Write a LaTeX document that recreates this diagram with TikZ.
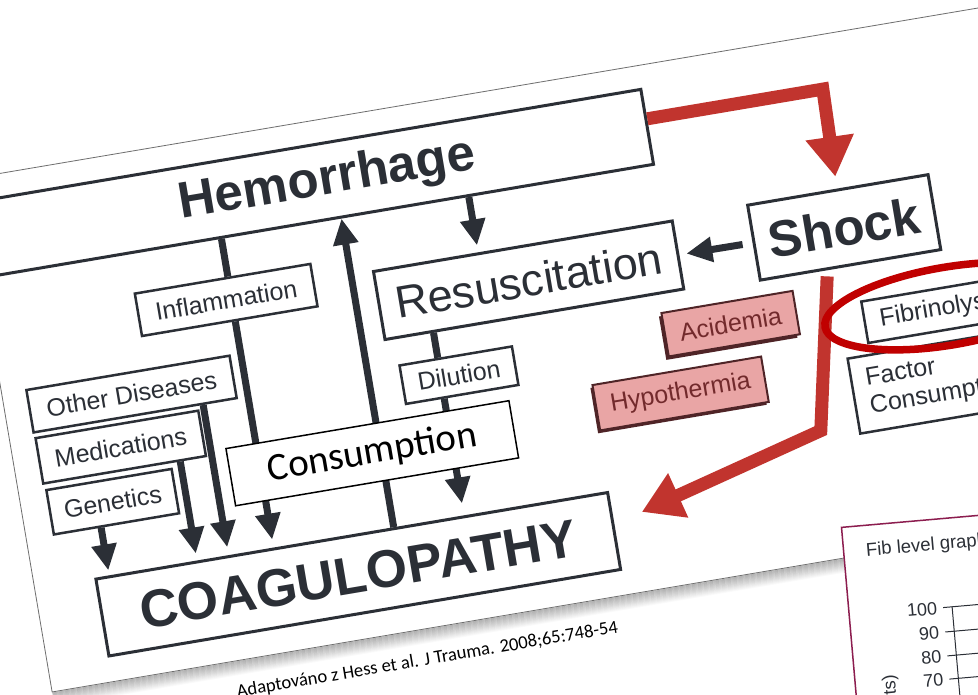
\documentclass[tikz,border=0pt]{standalone}
\usepackage{fontspec}
\setmainfont{Liberation Sans}
\newfontfamily\calibrifont{Carlito}
\usetikzlibrary{arrows.meta,calc}

\definecolor{ink}{HTML}{2B2F36}
\definecolor{bloodred}{HTML}{C1342E}
\definecolor{ringred}{HTML}{C00000}
\definecolor{pinkfill}{HTML}{E9A5A5}
\definecolor{pinkedge}{HTML}{4F2427}
\definecolor{pinktext}{HTML}{722A2C}
\definecolor{cardedge}{HTML}{8C1D4F}
\definecolor{pageedge}{HTML}{6E6E6E}

\newcommand\pxfont[1]{\fontsize{#1}{#1}\selectfont}

\pgfdeclarelayer{sheet}
\pgfdeclarelayer{links}
\pgfsetlayers{sheet,links,main}

\tikzset{
  mainbox/.style={draw=ink, line width=3pt, fill=white, text=ink, inner sep=0pt, font=\pxfont{51}\bfseries},
  midbox/.style={draw=ink, line width=3pt, fill=white, text=ink, inner sep=0pt, font=\pxfont{45}},
  smallbox/.style={draw=ink, line width=2.5pt, fill=white, text=ink, inner sep=0pt, font=\pxfont{25}},
  pinkbox/.style={draw=pinkedge, line width=2pt, fill=pinkfill, text=pinktext, inner sep=0pt, font=\pxfont{25}},
  pinkshade/.style={fill=pinkedge, inner sep=0pt},
  overbox/.style={draw=black, line width=1.5pt, fill=white, text=black, inner sep=0pt, font=\calibrifont\pxfont{39}},
  link/.style={draw=ink, line width=7pt},
  flow/.style={link, -{Triangle[width=24pt,length=26pt]}},
  redflow/.style={draw=bloodred, line width=13pt, line join=miter, -{Triangle[width=46pt,length=40pt]}},
}

\begin{document}
\begin{tikzpicture}[x=1pt,y=1pt]
\useasboundingbox (0,-695) rectangle (978,0);
\begin{pgfonlayer}{sheet}
  \fill[white] (0,-695) rectangle (978,0);
\end{pgfonlayer}

\begin{scope}[rotate=9.6, transform shape]
  % sheet with its soft shadow
  \begin{pgfonlayer}{sheet}
    \foreach \k [evaluate=\k as \op using 0.30*(1-\k/15)] in {1,...,14}
      \draw[black, opacity=\op, line width=1pt] ({-64},{-691-\k}) -- ({1400},{-691-\k});
    \draw[pageedge, line width=0.8pt, fill=white] (-64,-171) rectangle (1400,-691);
  \end{pgfonlayer}

  % boxes of the flow chart
  \node[mainbox, minimum width=677pt, minimum height=76pt] (hem) at (278.5,-233) {\hspace*{28pt}Hemorrhage};
  \node[mainbox, minimum width=183pt, minimum height=76pt] (shock) at (794.5,-365) {Shock};
  \node[midbox, minimum width=303pt, minimum height=69pt] (resus) at (474.5,-364.5) {Resuscitation};
  \node[smallbox, minimum width=178pt, minimum height=43pt] (inflam) at (173,-333.5) {Inflammation};
  \node[smallbox, minimum width=206pt, minimum height=43pt] (otherd) at (64,-410.5) {Other Diseases};
  \node[smallbox, minimum width=165pt, minimum height=46pt] (medic) at (44.5,-461) {Medications};
  \node[smallbox, minimum width=127pt, minimum height=45pt] (genet) at (27.5,-513.5) {Genetics};
  \node[smallbox, minimum width=114pt, minimum height=39pt] (dilut) at (390,-446.5) {Dilution};
  \node[mainbox, font=\pxfont{53}\bfseries, minimum width=519pt, minimum height=78pt] (coag) at (257.5,-626) {COAGULOPATHY};

  % anchor points of the connectors
  \path ($(hem.south west)!0.353!(hem.south east)$) coordinate (hemInf);
  \path ($(inflam.north west)!(hemInf)!(inflam.north east)$) coordinate (inflamTop);
  \path ($(inflam.south west)!0.53!(inflam.south east)$) coordinate (inflamBot);
  \path ($(coag.north west)!(inflamBot)!(coag.north east)$) coordinate (coagI);
  \path ($(otherd.south west)!0.83!(otherd.south east)$) coordinate (odBot);
  \path ($(coag.north west)!(odBot)!(coag.north east)$) coordinate (coagO);
  \path ($(medic.south west)!0.836!(medic.south east)$) coordinate (mdBot);
  \path ($(coag.north west)!(mdBot)!(coag.north east)$) coordinate (coagM);
  \path ($(genet.south west)!0.378!(genet.south east)$) coordinate (gnBot);
  \path ($(coag.north west)!(gnBot)!(coag.north east)$) coordinate (coagG);
  \path ($(coag.north west)!0.582!(coag.north east)$) coordinate (coagUp);
  \path ($(hem.south west)!(coagUp)!(hem.south east)$) coordinate (hemUp);
  \path ($(hem.south west)!0.722!(hem.south east)$) coordinate (hemRes);
  \path ($(resus.north west)!(hemRes)!(resus.north east)$) coordinate (resTop);
  \path ($(resus.south west)!0.165!(resus.south east)$) coordinate (resDil);
  \path ($(dilut.north west)!(resDil)!(dilut.north east)$) coordinate (dilTop);
  \path ($(dilut.south west)!0.342!(dilut.south east)$) coordinate (dilBot);
  \path ($(coag.north west)!(dilBot)!(coag.north east)$) coordinate (coagD);

  % dark connectors, kept beneath the boxes
  \begin{pgfonlayer}{links}
    \draw[link] (hemInf) -- (inflamTop);
    \draw[flow, shorten >=8pt] (inflamBot) -- (coagI);
    \draw[flow, shorten >=8pt] (odBot) -- (coagO);
    \draw[flow, shorten >=7pt] (mdBot) -- (coagM);
    \draw[flow, shorten >=5pt] (gnBot) -- (coagG);
    \draw[flow] (coagUp) -- (hemUp);
    \draw[flow, shorten >=7pt] (hemRes) -- (resTop);
    \draw[link] (resDil) -- (dilTop);
    \draw[flow, shorten >=12pt] (dilBot) -- (coagD);
    \draw[flow, shorten <=10pt, shorten >=7pt] (shock.west) -- (resus.east);
  \end{pgfonlayer}

  % shaded factors
  \node[pinkshade, minimum width=133pt, minimum height=44pt] (acidShade) at (663.5,-444) {};
  \node[pinkbox, minimum width=133pt, minimum height=44pt] (acid) at (666.5,-441) {Acidemia};
  \node[pinkshade, minimum width=171pt, minimum height=46pt] (hypoShade) at (603,-504) {};
  \node[pinkbox, minimum width=171pt, minimum height=46pt] (hypo) at (605.5,-501.5) {Hypothermia};

  % right column
  \node[smallbox, minimum width=156pt, minimum height=42pt] (fibr) at (877,-462) {Fibrinolysis};
  \node[smallbox, minimum width=176pt, minimum height=76pt, align=left, font=\fontsize{25}{28}\selectfont] (factor) at (864,-533) {Factor\\Consumption};

  % red flow: hemorrhage to shock, shock to coagulopathy
  \path ($(hem.north east)!0.4!(hem.south east)$) coordinate (hemOut);
  \path ($(shock.north west)!0.497!(shock.north east)$) coordinate (shockIn);
  \draw[redflow, shorten >=12pt] (hemOut) -- ++(178,0) coordinate (redCorner) -- (shockIn);
  \path ($(shock.south west)!0.366!(shock.south east)$) coordinate (shockOut);
  \path ($(coag.north east)!0.42!(coag.south east)$) coordinate (coagIn);
  \draw[redflow, shorten >=30pt] (shockOut) ++(0,-6) -- ++(-32,-151) coordinate (redBend) -- (coagIn);

  % highlight ring round fibrinolysis
  \draw[ringred, line width=7.5pt] ($(fibr.center)+(7,2)$) ellipse [x radius=125, y radius=39];

  % overlaid label
  \node[overbox, minimum width=287pt, minimum height=58pt] (consum) at (291.5,-509) {Consumption};

  % source line
  \node[anchor=base west, text=black, inner sep=0pt, font=\calibrifont\pxfont{18.6}] (source) at (118,-727) {Adaptováno z Hess et al. J Trauma. 2008;65:748-54};
\end{scope}

% fibrinogen chart card
\begin{scope}[shift={(840.7,-526.7)}, rotate=5, transform shape]
  \node[draw=cardedge, line width=1.5pt, fill=white, inner sep=0pt, minimum width=420pt, minimum height=420pt, anchor=north west] (card) at (0,0) {};
  \node[anchor=base west, text=ink, inner sep=0pt, font=\pxfont{18.5}] (cardTitle) at (23,-31.5) {Fib level graph};
  \foreach \val/\v in {100/89.5, 90/114, 80/138, 70/161.3} {
    \draw[ink, line width=1pt] (95,-\v) -- (420,-\v);
    \node[anchor=east, text=ink, inner sep=0pt, font=\pxfont{18}] (tick\val) at (89,-\v) {\val};
  }
  \draw[ink, line width=1pt] (104,-89) -- (104,-420);
  \node[rotate=90, anchor=east, text=ink, inner sep=0pt, font=\pxfont{18}] (unitLabel) at (36,-152) {ts)};
\end{scope}
\end{tikzpicture}
\end{document}
